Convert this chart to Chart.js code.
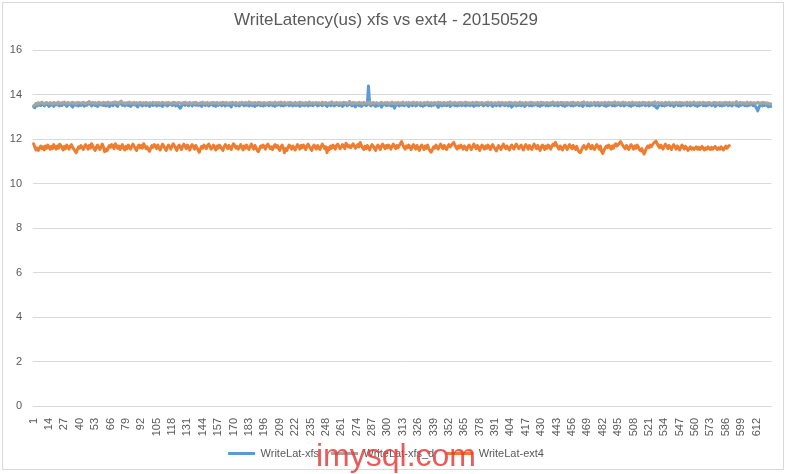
<!DOCTYPE html>
<html><head><meta charset="utf-8">
<script src="https://cdn.jsdelivr.net/npm/chart.js@4.4.1/dist/chart.umd.min.js"></script>
<style>
html,body{margin:0;padding:0;background:#fff;}
#wrap{position:relative;width:788px;height:474px;overflow:hidden;}
#frame{position:absolute;left:2px;top:2px;width:782px;height:468px;border:1px solid #D9D9D9;box-sizing:border-box;}
#c{position:absolute;left:0;top:0;}
#wm{position:absolute;left:316px;top:437px;font-family:"Liberation Sans",Arial,sans-serif;font-size:32px;color:rgba(232,60,60,0.85);pointer-events:none;}
</style>
</head><body>
<div id="wrap"><div id="frame"></div><canvas id="c" width="788" height="474"></canvas><div id="wm">imysql.com</div></div>
<script>
const title = "WriteLatency(us) xfs vs ext4 - 20150529";
const seriesNames = ["WriteLat-xfs", "WriteLat-xfs_d", "WriteLat-ext4"];
const yTicks = [0, 2, 4, 6, 8, 10, 12, 14, 16];
const labelEvery = 13;

const xfs = [
13.46,13.42,13.56,13.50,13.60,13.54,13.52,13.58,13.62,13.50,13.56,13.62,13.56,13.48,13.54,13.60,13.52,13.48,13.58,13.55,
13.62,13.54,13.50,13.58,13.52,13.57,13.63,13.55,13.48,13.54,13.60,13.57,13.51,13.45,13.55,13.59,13.53,13.60,13.50,13.57,
13.52,13.61,13.55,13.49,13.57,13.53,13.59,13.66,13.57,13.50,13.55,13.60,13.52,13.57,13.48,13.54,13.62,13.55,13.59,13.52,
13.57,13.50,13.60,13.53,13.47,13.59,13.55,13.51,13.62,13.57,13.53,13.48,13.59,13.68,13.60,13.53,13.57,13.50,13.55,13.62,
13.52,13.57,13.48,13.54,13.60,13.55,13.59,13.51,13.46,13.57,13.62,13.53,13.50,13.59,13.55,13.51,13.60,13.57,13.48,13.54,
13.59,13.52,13.55,13.62,13.50,13.57,13.53,13.60,13.51,13.48,13.57,13.55,13.59,13.50,13.54,13.60,13.57,13.52,13.55,13.59,
13.50,13.57,13.53,13.46,13.40,13.49,13.57,13.60,13.53,13.59,13.55,13.51,13.60,13.57,13.50,13.55,13.62,13.53,13.57,13.52,
13.59,13.53,13.48,13.57,13.60,13.52,13.55,13.59,13.50,13.54,13.62,13.57,13.51,13.55,13.48,13.59,13.53,13.60,13.57,13.51,
13.55,13.60,13.50,13.57,13.53,13.59,13.51,13.46,13.57,13.62,13.55,13.51,13.59,13.53,13.50,13.57,13.60,13.55,13.51,13.59,
13.53,13.57,13.50,13.60,13.55,13.51,13.59,13.48,13.57,13.53,13.62,13.55,13.51,13.57,13.50,13.60,13.53,13.59,13.55,13.51,
13.57,13.60,13.51,13.55,13.48,13.59,13.53,13.57,13.62,13.51,13.55,13.50,13.59,13.53,13.57,13.60,13.51,13.55,13.59,13.50,
13.53,13.57,13.51,13.60,13.55,13.48,13.59,13.53,13.57,13.51,13.62,13.55,13.50,13.57,13.53,13.59,13.51,13.55,13.60,13.57,
13.50,13.53,13.59,13.55,13.51,13.57,13.62,13.53,13.48,13.57,13.60,13.51,13.55,13.59,13.50,13.53,13.57,13.60,13.51,13.55,
13.59,13.48,13.53,13.57,13.62,13.51,13.55,13.68,13.57,13.50,13.60,13.53,13.46,13.57,13.59,13.51,13.55,13.48,13.53,13.57,
13.60,13.51,13.55,14.40,13.59,13.50,13.57,13.60,13.53,13.48,13.57,13.51,13.59,13.55,13.45,13.53,13.57,13.60,13.51,13.55,
13.53,13.57,13.50,13.59,13.51,13.40,13.53,13.60,13.55,13.50,13.57,13.53,13.59,13.51,13.55,13.62,13.53,13.48,13.57,13.60,
13.51,13.55,13.59,13.50,13.53,13.57,13.60,13.51,13.55,13.48,13.59,13.53,13.57,13.62,13.51,13.55,13.50,13.59,13.53,13.57,
13.60,13.51,13.44,13.55,13.59,13.50,13.57,13.53,13.60,13.51,13.55,13.59,13.48,13.53,13.57,13.62,13.51,13.55,13.50,13.59,
13.53,13.57,13.51,13.60,13.55,13.50,13.59,13.53,13.57,13.51,13.62,13.55,13.48,13.57,13.53,13.59,13.51,13.55,13.60,13.57,
13.50,13.53,13.59,13.55,13.51,13.57,13.62,13.53,13.48,13.57,13.60,13.51,13.55,13.59,13.50,13.53,13.57,13.60,13.51,13.55,
13.59,13.50,13.53,13.57,13.45,13.51,13.55,13.59,13.50,13.57,13.53,13.60,13.51,13.55,13.59,13.48,13.53,13.57,13.62,13.51,
13.55,13.50,13.59,13.53,13.57,13.60,13.51,13.55,13.48,13.59,13.53,13.57,13.62,13.51,13.55,13.50,13.59,13.53,13.57,13.60,
13.51,13.55,13.59,13.50,13.53,13.57,13.60,13.51,13.55,13.48,13.59,13.53,13.57,13.62,13.51,13.55,13.50,13.59,13.53,13.57,
13.60,13.51,13.55,13.59,13.48,13.53,13.57,13.62,13.51,13.55,13.50,13.59,13.53,13.57,13.60,13.51,13.55,13.59,13.50,13.53,
13.57,13.60,13.51,13.55,13.48,13.59,13.53,13.57,13.62,13.51,13.55,13.50,13.59,13.53,13.57,13.60,13.51,13.55,13.59,13.50,
13.53,13.57,13.60,13.51,13.55,13.48,13.59,13.53,13.57,13.62,13.51,13.55,13.50,13.59,13.53,13.57,13.60,13.51,13.55,13.59,
13.50,13.53,13.57,13.60,13.51,13.55,13.44,13.40,13.49,13.57,13.62,13.51,13.55,13.50,13.59,13.53,13.57,13.60,13.51,13.55,
13.59,13.48,13.53,13.57,13.62,13.51,13.55,13.50,13.59,13.53,13.57,13.60,13.51,13.55,13.59,13.50,13.53,13.57,13.60,13.51,
13.55,13.48,13.59,13.53,13.57,13.62,13.51,13.55,13.50,13.59,13.53,13.57,13.60,13.51,13.55,13.59,13.48,13.53,13.57,13.62,
13.51,13.55,13.50,13.59,13.53,13.57,13.60,13.51,13.55,13.59,13.50,13.53,13.57,13.60,13.51,13.55,13.48,13.59,13.53,13.57,
13.62,13.51,13.55,13.50,13.59,13.53,13.57,13.60,13.51,13.55,13.48,13.40,13.28,13.44,13.55,13.59,13.50,13.60,13.53,13.57,
13.51,13.46,13.50,13.48
];

const xfsD = [
13.50,13.55,13.62,13.58,13.65,13.60,13.63,13.67,13.61,13.59,13.64,13.66,13.62,13.60,13.65,13.63,13.58,13.66,13.62,13.64,
13.60,13.67,13.63,13.61,13.65,13.62,13.68,13.64,13.60,13.66,13.63,13.61,13.65,13.67,13.62,13.64,13.60,13.66,13.63,13.65,
13.61,13.64,13.67,13.62,13.60,13.65,13.63,13.70,13.64,13.61,13.66,13.62,13.65,13.60,13.63,13.67,13.62,13.64,13.61,13.66,
13.63,13.65,13.60,13.67,13.62,13.64,13.61,13.66,13.63,13.68,13.62,13.65,13.60,13.64,13.72,13.66,13.62,13.64,13.61,13.65,
13.63,13.67,13.61,13.64,13.62,13.66,13.60,13.65,13.63,13.61,13.67,13.64,13.62,13.65,13.60,13.66,13.63,13.61,13.65,13.62,
13.64,13.67,13.61,13.63,13.66,13.62,13.65,13.60,13.64,13.67,13.63,13.61,13.65,13.62,13.66,13.64,13.60,13.63,13.67,13.62,
13.65,13.61,13.64,13.66,13.62,13.60,13.65,13.63,13.67,13.61,13.64,13.62,13.66,13.60,13.63,13.65,13.61,13.67,13.64,13.62,
13.60,13.65,13.63,13.67,13.61,13.64,13.62,13.66,13.60,13.63,13.65,13.61,13.67,13.64,13.62,13.66,13.60,13.63,13.65,13.61,
13.67,13.64,13.62,13.66,13.60,13.63,13.65,13.61,13.67,13.64,13.62,13.66,13.60,13.63,13.65,13.61,13.67,13.64,13.62,13.66,
13.61,13.63,13.68,13.62,13.65,13.60,13.64,13.66,13.61,13.63,13.67,13.62,13.65,13.59,13.64,13.66,13.62,13.60,13.65,13.63,
13.66,13.61,13.64,13.62,13.67,13.60,13.63,13.65,13.62,13.68,13.64,13.61,13.66,13.63,13.60,13.65,13.62,13.67,13.64,13.61,
13.63,13.66,13.60,13.64,13.62,13.67,13.61,13.65,13.63,13.60,13.66,13.62,13.64,13.68,13.61,13.63,13.65,13.60,13.64,13.66,
13.62,13.65,13.61,13.63,13.67,13.60,13.64,13.66,13.62,13.61,13.65,13.63,13.68,13.60,13.64,13.62,13.66,13.61,13.63,13.65,
13.60,13.64,13.67,13.62,13.65,13.61,13.63,13.70,13.64,13.60,13.66,13.62,13.65,13.61,13.63,13.67,13.62,13.64,13.60,13.66,
13.63,13.61,13.65,13.62,13.67,13.60,13.64,13.66,13.61,13.63,13.65,13.62,13.60,13.64,13.67,13.61,13.63,13.65,13.62,13.66,
13.60,13.64,13.62,13.67,13.61,13.63,13.65,13.60,13.66,13.62,13.64,13.61,13.67,13.63,13.60,13.65,13.62,13.66,13.61,13.64,
13.62,13.67,13.60,13.64,13.66,13.61,13.63,13.65,13.62,13.60,13.66,13.64,13.61,13.67,13.63,13.62,13.65,13.60,13.64,13.66,
13.61,13.63,13.67,13.62,13.65,13.60,13.64,13.66,13.61,13.63,13.65,13.62,13.68,13.60,13.64,13.62,13.66,13.61,13.63,13.65,
13.60,13.66,13.62,13.64,13.61,13.67,13.63,13.65,13.60,13.64,13.62,13.66,13.61,13.63,13.67,13.62,13.65,13.60,13.64,13.66,
13.62,13.61,13.65,13.63,13.67,13.60,13.64,13.66,13.62,13.61,13.65,13.63,13.60,13.67,13.64,13.62,13.66,13.61,13.63,13.65,
13.60,13.64,13.67,13.62,13.65,13.61,13.63,13.66,13.60,13.64,13.62,13.67,13.61,13.65,13.63,13.60,13.66,13.62,13.64,13.61,
13.67,13.63,13.65,13.60,13.64,13.62,13.66,13.61,13.63,13.67,13.62,13.65,13.60,13.64,13.66,13.61,13.63,13.65,13.62,13.68,
13.60,13.64,13.62,13.66,13.61,13.63,13.67,13.62,13.65,13.60,13.64,13.66,13.61,13.63,13.65,13.62,13.67,13.60,13.64,13.62,
13.66,13.61,13.63,13.65,13.62,13.68,13.60,13.64,13.66,13.61,13.63,13.65,13.62,13.60,13.67,13.64,13.61,13.66,13.63,13.62,
13.65,13.60,13.64,13.67,13.62,13.63,13.66,13.61,13.65,13.62,13.64,13.69,13.63,13.60,13.66,13.62,13.64,13.61,13.67,13.63,
13.65,13.62,13.60,13.66,13.64,13.61,13.67,13.63,13.62,13.65,13.60,13.64,13.66,13.61,13.63,13.67,13.62,13.65,13.60,13.64,
13.66,13.61,13.63,13.65,13.62,13.68,13.60,13.64,13.66,13.61,13.63,13.65,13.62,13.60,13.67,13.64,13.61,13.66,13.63,13.62,
13.65,13.60,13.64,13.67,13.62,13.63,13.66,13.61,13.65,13.62,13.64,13.60,13.67,13.63,13.61,13.66,13.62,13.64,13.68,13.63,
13.61,13.65,13.62,13.66,13.60,13.64,13.67,13.62,13.63,13.65,13.61,13.66,13.64,13.60,13.63,13.67,13.62,13.65,13.61,13.64,
13.66,13.62,13.63,13.65,13.60,13.67,13.64,13.61,13.66,13.63,13.62,13.65,13.60,13.64,13.70,13.62,13.63,13.66,13.61,13.65,
13.62,13.64,13.60,13.67,13.63,13.61,13.66,13.62,13.64,13.65,13.60,13.63,13.67,13.62,13.64,13.61,13.66,13.63,13.65,13.60,
13.64,13.62,13.58,13.60
];

const ext4 = [
11.80,11.66,11.52,11.60,11.50,11.62,11.70,11.58,11.66,11.52,11.70,11.60,11.74,11.64,11.55,11.68,11.58,11.76,11.66,11.56,
11.70,11.60,11.78,11.72,11.62,11.52,11.68,11.58,11.74,11.64,11.56,11.70,11.76,11.64,11.56,11.48,11.40,11.54,11.66,11.60,
11.72,11.62,11.54,11.68,11.76,11.66,11.56,11.72,11.60,11.80,11.70,11.58,11.50,11.64,11.74,11.62,11.54,11.68,11.78,11.66,
11.44,11.56,11.48,11.62,11.72,11.64,11.76,11.68,11.58,11.80,11.72,11.60,11.70,11.54,11.66,11.76,11.60,11.52,11.68,11.58,
11.74,11.64,11.56,11.70,11.78,11.68,11.58,11.50,11.66,11.74,11.62,11.72,11.60,11.80,11.70,11.58,11.66,11.54,11.46,11.60,
11.72,11.64,11.76,11.68,11.58,11.74,11.62,11.52,11.66,11.78,11.70,11.60,11.50,11.64,11.74,11.66,11.56,11.70,11.80,11.72,
11.60,11.50,11.66,11.74,11.64,11.54,11.70,11.78,11.68,11.58,11.74,11.62,11.52,11.68,11.76,11.66,11.56,11.72,11.62,11.52,
11.42,11.56,11.68,11.60,11.74,11.66,11.58,11.72,11.78,11.68,11.56,11.64,11.74,11.62,11.52,11.70,11.60,11.74,11.66,11.58,
11.50,11.66,11.76,11.68,11.58,11.72,11.62,11.54,11.70,11.80,11.72,11.60,11.68,11.56,11.66,11.76,11.64,11.52,11.70,11.60,
11.74,11.62,11.54,11.68,11.78,11.66,11.56,11.72,11.62,11.50,11.44,11.58,11.70,11.64,11.74,11.66,11.56,11.72,11.78,11.68,
11.58,11.66,11.54,11.68,11.76,11.64,11.72,11.60,11.50,11.66,11.74,11.62,11.40,11.58,11.50,11.64,11.74,11.66,11.56,11.70,
11.60,11.52,11.66,11.76,11.68,11.56,11.72,11.62,11.74,11.66,11.54,11.70,11.78,11.68,11.58,11.50,11.66,11.74,11.64,11.56,
11.72,11.62,11.54,11.68,11.78,11.70,11.58,11.66,11.40,11.62,11.54,11.70,11.60,11.74,11.66,11.56,11.72,11.78,11.68,11.58,
11.66,11.76,11.68,11.58,11.82,11.76,11.66,11.72,11.62,11.70,11.80,11.70,11.60,11.68,11.76,11.66,11.86,11.72,11.62,11.54,
11.68,11.58,11.72,11.64,11.52,11.66,11.76,11.70,11.60,11.50,11.66,11.74,11.64,11.54,11.70,11.78,11.68,11.58,11.72,11.62,
11.74,11.66,11.56,11.70,11.78,11.68,11.58,11.72,11.62,11.72,11.80,11.90,11.76,11.64,11.56,11.70,11.62,11.74,11.66,11.54,
11.68,11.76,11.64,11.56,11.72,11.62,11.50,11.66,11.74,11.64,11.54,11.70,11.60,11.74,11.58,11.48,11.42,11.54,11.66,11.60,
11.74,11.64,11.56,11.70,11.78,11.66,11.58,11.72,11.62,11.54,11.68,11.76,11.66,11.72,11.80,11.86,11.74,11.64,11.56,11.70,
11.62,11.74,11.66,11.56,11.70,11.60,11.52,11.66,11.74,11.64,11.54,11.68,11.78,11.66,11.58,11.72,11.62,11.50,11.66,11.74,
11.64,11.56,11.70,11.60,11.74,11.66,11.54,11.68,11.76,11.64,11.58,11.48,11.62,11.72,11.64,11.54,11.68,11.78,11.66,11.58,
11.70,11.60,11.52,11.66,11.74,11.64,11.56,11.70,11.78,11.68,11.58,11.66,11.74,11.62,11.52,11.68,11.76,11.66,11.56,11.72,
11.62,11.54,11.68,11.78,11.66,11.58,11.72,11.62,11.50,11.66,11.74,11.64,11.54,11.70,11.60,11.74,11.66,11.56,11.70,11.78,
11.72,11.86,11.74,11.64,11.56,11.70,11.60,11.52,11.66,11.74,11.64,11.54,11.68,11.76,11.66,11.58,11.72,11.62,11.54,11.68,
11.52,11.44,11.40,11.52,11.64,11.72,11.64,11.56,11.70,11.78,11.66,11.58,11.72,11.62,11.54,11.68,11.76,11.66,11.56,11.70,
11.46,11.36,11.50,11.62,11.70,11.62,11.74,11.66,11.56,11.70,11.60,11.74,11.80,11.70,11.76,11.82,11.90,11.80,11.72,11.64,
11.58,11.72,11.62,11.54,11.68,11.76,11.66,11.56,11.70,11.60,11.74,11.66,11.54,11.48,11.58,11.44,11.34,11.48,11.62,11.70,
11.62,11.74,11.66,11.76,11.82,11.88,11.92,11.80,11.70,11.62,11.74,11.64,11.56,11.70,11.78,11.68,11.58,11.72,11.62,11.54,
11.68,11.76,11.66,11.56,11.70,11.60,11.52,11.66,11.74,11.64,11.56,11.68,11.60,11.50,11.58,11.66,11.56,11.62,11.54,11.60,
11.66,11.56,11.64,11.54,11.60,11.68,11.58,11.52,11.62,11.56,11.66,11.58,11.54,11.64,11.56,11.62,11.68,11.58,11.54,11.62,
11.56,11.66,11.58,11.52,11.62,11.70,11.60,11.66,11.72
];

const categories = xfs.map((_, i) => String(i + 1));
const colors = ["#5B9BD5", "#A5A5A5", "#ED7D31"];
const FONT = '"Liberation Sans", Arial, sans-serif';
const TXT = "#595959";

new Chart(document.getElementById("c"), {
  type: "line",
  data: {
    labels: categories,
    datasets: [
      { label: seriesNames[0], data: xfs, borderColor: colors[0], backgroundColor: colors[0], order: 3 },
      { label: seriesNames[1], data: xfsD, borderColor: colors[1], backgroundColor: colors[1], order: 2 },
      { label: seriesNames[2], data: ext4, borderColor: colors[2], backgroundColor: colors[2], order: 1 }
    ]
  },
  options: {
    responsive: false,
    animation: false,
    events: [],
    layout: { padding: { left: 0, right: 16, top: 0, bottom: 5 } },
    elements: {
      point: { radius: 0 },
      line: { borderWidth: 3, tension: 0, borderJoinStyle: "round", borderCapStyle: "round", fill: false }
    },
    plugins: {
      title: {
        display: true, text: title, color: TXT,
        font: { family: FONT, size: 17, weight: "normal" },
        padding: { top: 10, bottom: 20 }
      },
      legend: {
        position: "bottom",
        labels: {
          boxWidth: 27, boxHeight: 3, color: TXT, font: { family: FONT, size: 11 }, padding: 12,
          sort: (a, b) => a.datasetIndex - b.datasetIndex,
          generateLabels: (chart) => Chart.defaults.plugins.legend.labels.generateLabels(chart)
            .map(l => Object.assign(l, { lineWidth: 0 }))
        }
      },
      tooltip: { enabled: false }
    },
    scales: {
      x: {
        offset: true,
        grid: { display: false },
        border: { color: "#D9D9D9", width: 1 },
        ticks: {
          autoSkip: false, maxRotation: 90, minRotation: 90, padding: 4,
          color: TXT, font: { family: FONT, size: 11 },
          callback: function (v, i) { return i % labelEvery === 0 ? categories[i] : ""; }
        },
        afterFit: function (s) { s.height = 30; }
      },
      y: {
        min: yTicks[0], max: yTicks[yTicks.length - 1],
        afterBuildTicks: function (s) { s.ticks = yTicks.map(v => ({ value: v })); },
        grid: { color: "#D9D9D9", drawTicks: false },
        border: { display: false },
        ticks: { color: TXT, font: { family: FONT, size: 11 }, padding: 11 },
        afterFit: function (s) { s.width = 33; }
      }
    }
  }
});
</script>
</body></html>
